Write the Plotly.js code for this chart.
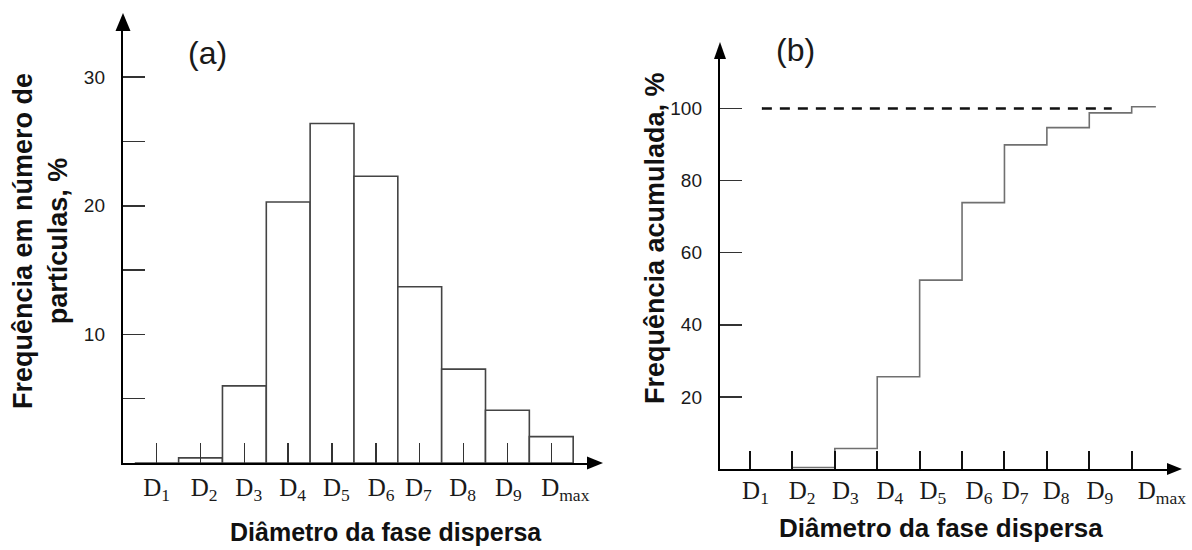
<!DOCTYPE html>
<html>
<head>
<meta charset="utf-8">
<script src="https://cdn.plot.ly/plotly-3.0.1.min.js"></script>
<style>html,body{margin:0;padding:0;background:#fff}#chart{width:1192px;height:550px}</style>
</head>
<body>
<div id="chart"></div>
<script>
// ---- data ----
const categories = ['D<sub>1</sub>','D<sub>2</sub>','D<sub>3</sub>','D<sub>4</sub>','D<sub>5</sub>','D<sub>6</sub>','D<sub>7</sub>','D<sub>8</sub>','D<sub>9</sub>','D<sub>max</sub>'];
const categoryIndex = [0,1,2,3,4,5,6,7,8,9];
const freqPercent = [0, 0.4, 6.0, 20.3, 26.4, 22.3, 13.7, 7.3, 4.1, 2.05];
const leftYTickVals = [5,10,15,20,25,30];
const leftYTickText = ['', '10', '', '20', '', '30'];

const cumX = [1, 2, 3, 4, 5, 6, 7, 8, 9, 9.57];
const cumPercent = [0.4, 5.7, 25.6, 52.4, 73.9, 89.9, 94.7, 98.8, 100.5, 100.5];
const refLineX = [0.28, 8.53];
const refLineY = [100, 100];
const rightYTickVals = [20, 40, 60, 80, 100];

// ---- layout helpers (pixel -> paper) ----
const W = 1192, H = 550;
const px = v => v / W;
const py = v => 1 - v / H;

const txtFont = {family: 'Liberation Sans, Arial, sans-serif', color: '#1a1a1a'};
const boldFont = (s) => ({family: 'Liberation Sans, Arial, sans-serif', size: s, color: '#111', weight: 'bold'});
const labelFont = {family: 'Liberation Serif, Times New Roman, serif', size: 25, color: '#1a1a1a'};

const traces = [
  {
    type: 'bar', x: categoryIndex, y: freqPercent, xaxis: 'x', yaxis: 'y',
    width: 1,
    marker: {color: '#ffffff', line: {color: '#444444', width: 1.6}},
    hoverinfo: 'skip'
  },
  {
    type: 'scatter', mode: 'lines', x: refLineX, y: refLineY, xaxis: 'x2', yaxis: 'y2',
    line: {color: '#111', width: 2.7, dash: '10px,8px'}, hoverinfo: 'skip'
  },
  {
    type: 'scatter', mode: 'lines', x: cumX, y: cumPercent, xaxis: 'x2', yaxis: 'y2',
    line: {color: '#707070', width: 1.6, shape: 'hv'}, hoverinfo: 'skip'
  },
  // empty traces so that the label-only overlay axes get drawn
  {type: 'scatter', mode: 'lines', x: [], y: [], xaxis: 'x3', yaxis: 'y', hoverinfo: 'skip'},
  {type: 'scatter', mode: 'lines', x: [], y: [], xaxis: 'x4', yaxis: 'y2', hoverinfo: 'skip'}
];

const leftX0 = 123, leftX1 = 590, leftYb = 463, leftYt = 28;
const leftUnitX = 43.84, leftD1 = 156.7, leftUnitY = 12.86;
const rightX0 = 720, rightX1 = 1170, rightYb = 469, rightYt = 56;
const rightUnitX = 42.41, rightD1 = 750, rightUnitY = 3.605;
const leftRange = [-(leftD1 - leftX0) / leftUnitX, (leftX1 - leftD1) / leftUnitX];
const rightRange = [-(rightD1 - rightX0) / rightUnitX, (rightX1 - rightD1) / rightUnitX];

// where the tick label texts sit in the reference (slightly off the tick marks)
const leftLabelAt = [0, 1.08, 2.10, 3.10, 4.10, 5.12, 5.97, 6.98, 8.02, 9.32];
const rightLabelAt = [0.13, 1.23, 2.25, 3.30, 4.31, 5.40, 6.25, 7.22, 8.25, 9.71];

const baseX = {
  showgrid: false, zeroline: false, showline: true, linecolor: '#000', linewidth: 2.2,
  ticks: 'inside', tickmode: 'array', tickvals: categoryIndex, showticklabels: false,
  fixedrange: true
};
const labelX = {
  showgrid: false, zeroline: false, showline: false, ticks: '',
  tickmode: 'array', ticktext: categories, tickfont: labelFont, fixedrange: true
};
const layout = {
  width: W, height: H,
  margin: {l: 0, r: 0, t: 0, b: 0},
  paper_bgcolor: '#fff', plot_bgcolor: 'rgba(0,0,0,0)',
  showlegend: false, bargap: 0,
  xaxis: Object.assign({}, baseX, {
    domain: [px(leftX0), px(leftX1)], range: leftRange,
    ticklen: 20, tickwidth: 1.5, tickcolor: '#333', anchor: 'y'
  }),
  xaxis3: Object.assign({}, labelX, {
    overlaying: 'x', anchor: 'y', range: leftRange, tickvals: leftLabelAt,
    ticklabelstandoff: 7
  }),
  yaxis: {
    domain: [py(leftYb), py(leftYt)], range: [0, (leftYb - leftYt) / leftUnitY],
    showgrid: false, zeroline: false, showline: true, linecolor: '#000', linewidth: 2.2,
    ticks: 'inside', ticklen: 22, tickwidth: 1.5, tickcolor: '#333',
    tickmode: 'array', tickvals: leftYTickVals, ticktext: leftYTickText,
    tickfont: Object.assign({}, txtFont, {size: 19}), ticklabelstandoff: 12,
    anchor: 'x', fixedrange: true
  },
  xaxis2: Object.assign({}, baseX, {
    domain: [px(rightX0), px(rightX1)], range: rightRange,
    ticklen: 18, tickwidth: 2, tickcolor: '#111', anchor: 'y2'
  }),
  xaxis4: Object.assign({}, labelX, {
    overlaying: 'x2', anchor: 'y2', range: rightRange, tickvals: rightLabelAt,
    ticklabelstandoff: 4
  }),
  yaxis2: {
    domain: [py(rightYb), py(rightYt)], range: [0, (rightYb - rightYt) / rightUnitY],
    showgrid: false, zeroline: false, showline: true, linecolor: '#000', linewidth: 2.2,
    ticks: 'inside', ticklen: 22, tickwidth: 1.5, tickcolor: '#333',
    tickmode: 'array', tickvals: rightYTickVals,
    tickfont: Object.assign({}, txtFont, {size: 19}), ticklabelstandoff: 12,
    anchor: 'x2', fixedrange: true
  },
  shapes: [
    {type: 'path', xref: 'x domain', yref: 'y domain', xsizemode: 'pixel', ysizemode: 'pixel',
     xanchor: 0, yanchor: 1, path: 'M -7.5 -3 L 7.5 -3 L 0 15 Z', fillcolor: '#000', line: {width: 0}},
    {type: 'path', xref: 'x domain', yref: 'y domain', xsizemode: 'pixel', ysizemode: 'pixel',
     xanchor: 1, yanchor: 0, path: 'M -3 6.5 L -3 -6.5 L 13 0 Z', fillcolor: '#000', line: {width: 0}},
    {type: 'path', xref: 'x2 domain', yref: 'y2 domain', xsizemode: 'pixel', ysizemode: 'pixel',
     xanchor: 0, yanchor: 1, path: 'M -6 -3 L 6 -3 L 0 14 Z', fillcolor: '#000', line: {width: 0}},
    {type: 'path', xref: 'x2 domain', yref: 'y2 domain', xsizemode: 'pixel', ysizemode: 'pixel',
     xanchor: 1, yanchor: 0, path: 'M -3 6 L -3 -6 L 12 0 Z', fillcolor: '#000', line: {width: 0}}
  ],
  annotations: [
    {text: '(a)', xref: 'paper', yref: 'paper', x: px(207), y: py(53), showarrow: false,
     font: Object.assign({}, txtFont, {size: 32}), xanchor: 'center', yanchor: 'middle'},
    {text: '(b)', xref: 'paper', yref: 'paper', x: px(795), y: py(50), showarrow: false,
     font: Object.assign({}, txtFont, {size: 32}), xanchor: 'center', yanchor: 'middle'},
    {text: 'Frequência em número de<br>partículas, %', xref: 'paper', yref: 'paper',
     x: px(40), y: py(241), showarrow: false, textangle: -90,
     font: boldFont(27), xanchor: 'center', yanchor: 'middle'},
    {text: 'Frequência acumulada, %', xref: 'paper', yref: 'paper',
     x: px(655), y: py(238), showarrow: false, textangle: -90,
     font: boldFont(27), xanchor: 'center', yanchor: 'middle'},
    {text: 'Diâmetro da fase dispersa', xref: 'paper', yref: 'paper',
     x: px(386), y: py(532), showarrow: false,
     font: boldFont(25), xanchor: 'center', yanchor: 'middle'},
    {text: 'Diâmetro da fase dispersa', xref: 'paper', yref: 'paper',
     x: px(941), y: py(528), showarrow: false,
     font: boldFont(26), xanchor: 'center', yanchor: 'middle'}
  ]
};

Plotly.newPlot('chart', traces, layout, {displayModeBar: false, staticPlot: true});
</script>
</body>
</html>
